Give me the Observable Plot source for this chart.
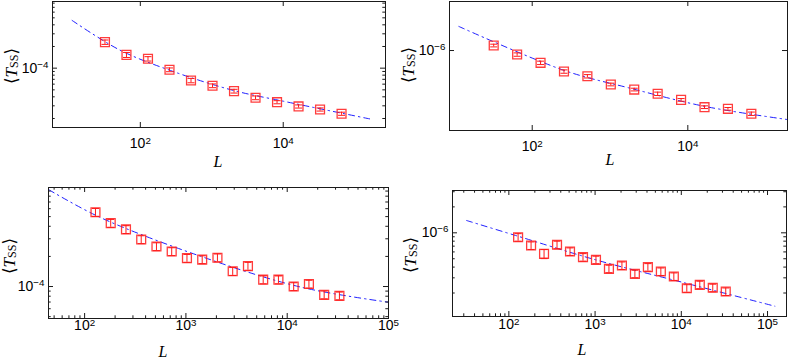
<!DOCTYPE html>
<html><head><meta charset="utf-8">
<script src="https://cdn.jsdelivr.net/npm/d3@7"></script>
<script src="https://cdn.jsdelivr.net/npm/@observablehq/plot@0.6"></script>
<style>
html,body{margin:0;padding:0;background:#fff;}
#wrap{position:relative;width:789px;height:359px;overflow:hidden;}
#wrap svg{position:absolute;overflow:visible;max-width:none!important;}
</style></head><body><div id="wrap"></div>
<script>
// ---------- data ----------
const L_top = [32, 64, 128, 256, 512, 1024, 2048, 4096, 8192, 16384, 32768, 65536];
const T_p1 = [2.30e-4, 1.53e-4, 1.35e-4, 9.5e-5, 6.74e-5, 5.70e-5, 4.80e-5, 3.88e-5, 3.37e-5, 2.94e-5, 2.67e-5, 2.33e-5];
const E_p1 = [0.07, 0.08, 0.07, 0.06, 0.07, 0.06, 0.06, 0.06, 0.05, 0.05, 0.05, 0.05];
const T_p2 = [1.16e-6, 8.88e-7, 6.95e-7, 5.37e-7, 4.67e-7, 3.66e-7, 3.15e-7, 2.78e-7, 2.32e-7, 1.87e-7, 1.78e-7, 1.54e-7];
const E_p2 = [0.04, 0.05, 0.05, 0.05, 0.05, 0.04, 0.04, 0.05, 0.04, 0.04, 0.04, 0.05];

const L_bot = [128, 181, 256, 362, 512, 724, 1024, 1448, 2048, 2896, 4096, 5793, 8192, 11585, 16384, 23170, 32768];
const T_p3 = [5.53e-4, 4.30e-4, 3.72e-4, 2.95e-4, 2.51e-4, 2.24e-4, 1.92e-4, 1.86e-4, 1.94e-4, 1.42e-4, 1.60e-4, 1.17e-4, 1.17e-4, 1.00e-4, 1.06e-4, 8.26e-5, 8.07e-5];
const E_p3 = [0.09, 0.09, 0.09, 0.09, 0.09, 0.09, 0.09, 0.09, 0.09, 0.09, 0.09, 0.09, 0.09, 0.09, 0.09, 0.09, 0.09];
const T_p4 = [8.89e-7, 7.12e-7, 5.70e-7, 7.26e-7, 6.07e-7, 5.21e-7, 4.86e-7, 3.82e-7, 4.17e-7, 3.34e-7, 3.99e-7, 3.55e-7, 3.11e-7, 2.27e-7, 2.49e-7, 2.30e-7, 2.08e-7];
const E_p4 = [0.10, 0.10, 0.12, 0.10, 0.10, 0.10, 0.10, 0.10, 0.10, 0.10, 0.10, 0.10, 0.10, 0.10, 0.10, 0.10, 0.10];

// fitted curves
const fitL_p1 = [11.1, 50.8, 263, 2018, 10000, 177400];
const fitT_p1 = [4.60e-4, 1.80e-4, 9.29e-5, 4.90e-5, 3.48e-5, 1.94e-5];
const fitL_p2 = [11.4, 260, 1746, 16870, 189700];
const fitT_p2 = [2.04e-6, 5.53e-7, 3.31e-7, 1.905e-7, 1.297e-7];
const fitL_p3 = [44.4, 141, 1409, 13770, 100000];
const fitT_p3 = [9.27e-4, 4.93e-4, 2.00e-4, 9.84e-5, 6.97e-5];
const fitL_p4 = [32.3, 119.7, 1019, 10190, 121600];
const fitT_p4 = [1.39e-6, 9.31e-7, 4.85e-7, 2.67e-7, 1.406e-7];

// tick values
const xMajorTop = [1e2, 1e4];
const xMajorBot = [1e2, 1e3, 1e4, 1e5];
const xMinorBot = [20,30,40,50,60,70,80,90,200,300,400,500,600,700,800,900,2e3,3e3,4e3,5e3,6e3,7e3,8e3,9e3,2e4,3e4,4e4,5e4,6e4,7e4,8e4,9e4];
const yMajorA = [1e-4];
const yMinorA = [2e-5,3e-5,4e-5,5e-5,6e-5,7e-5,8e-5,9e-5,2e-4,3e-4,4e-4,5e-4,6e-4,7e-4,8e-4,9e-4];
const yMajorB = [1e-6];
const yMinorB = [2e-7,3e-7,4e-7,5e-7,6e-7,7e-7,8e-7,9e-7,2e-6,3e-6];

// ---------- layout ----------
const panels = [
  {left:0, top:0, width:395, height:180, mt:1, mr:10, mb:53, ml:52,
   xDomain:[5.9, 2.7e5], yDomain:[1.50e-5, 8.43e-4],
   L:L_top, T:T_p1, E:E_p1, fL:fitL_p1, fT:fitT_p1,
   xMaj:xMajorTop, xMin:[], yMaj:yMajorA, yMin:yMinorA, xPad:11, xlab:[218,167], ylab:[11,66]},
  {left:395, top:0, width:394, height:180, mt:1, mr:2, mb:50, ml:54,
   xDomain:[8.65, 1.91e5], yDomain:[9.37e-8, 4.27e-6],
   L:L_top, T:T_p2, E:E_p2, fL:fitL_p2, fT:fitT_p2,
   xMaj:xMajorTop, xMin:[], yMaj:yMajorB, yMin:[], xPad:11, xlab:[215,165], ylab:[13,65]},
  {left:0, top:180, width:395, height:179, mt:7, mr:7, mb:41, ml:48,
   xDomain:[44, 1e5], yDomain:[4.79e-5, 9.77e-4],
   L:L_bot, T:T_p3, E:E_p3, fL:fitL_p3, fT:fitT_p3,
   xMaj:xMajorBot, xMin:xMinorBot, yMaj:yMajorA, yMin:yMinorA, xPad:2, xlab:[163,177], ylab:[9,76]},
  {left:395, top:180, width:394, height:179, mt:10, mr:3, mb:43, ml:57,
   xDomain:[22.2, 1.66e5], yDomain:[1.067e-7, 3.10e-6],
   L:L_bot, T:T_p4, E:E_p4, fL:fitL_p4, fT:fitT_p4,
   xMaj:xMajorBot, xMin:xMinorBot, yMaj:yMajorB, yMin:yMinorB, xPad:3, xlab:[187,175], ylab:[15,75]}
];

const fmt = d => "10^" + String(Math.round(Math.log10(d))).replace("-", "\u2212");
const capSymbol = {draw(ctx) { ctx.moveTo(-3.5, 0); ctx.lineTo(3.5, 0); }};
const RED = "#ff1a1a";
const AX = "#1a1a1a";

const wrap = document.getElementById("wrap");
for (const p of panels) {
  const iw = p.width - p.ml - p.mr, ih = p.height - p.mt - p.mb;
  const pts = p.L.map((L, i) => ({L, T: p.T[i], lo: p.T[i] * (1 - p.E[i]), hi: p.T[i] * (1 + p.E[i])}));
  const caps = pts.flatMap(d => [{L: d.L, y: d.lo}, {L: d.L, y: d.hi}]);
  const fit = p.fL.map((L, i) => ({L, T: p.fT[i]}));
  const inX = v => v >= p.xDomain[0] && v <= p.xDomain[1];
  const inY = v => v >= p.yDomain[0] && v <= p.yDomain[1];
  const xMin = p.xMin.filter(inX), yMin = p.yMin.filter(inY);
  const major = 5, minor = 2.7;
  const svg = Plot.plot({
    width: p.width, height: p.height,
    marginTop: p.mt, marginRight: p.mr, marginBottom: p.mb, marginLeft: p.ml,
    x: {type: "log", domain: p.xDomain, axis: null, label: null},
    y: {type: "log", domain: p.yDomain, axis: null, label: null},
    style: {fontFamily: "'Liberation Sans', Arial, sans-serif", fontSize: "14px", background: "transparent", color: "#000"},
    marks: [
      Plot.line(fit, {x: "L", y: "T", stroke: "#2020ff", strokeWidth: 1, strokeDasharray: "6,4,1.5,4", curve: "catmull-rom"}),
      Plot.ruleX(pts, {x: "L", y1: "lo", y2: "hi", stroke: RED, strokeWidth: 1}),
      Plot.dot(caps, {x: "L", y: "y", symbol: capSymbol, r: 3, stroke: RED, strokeWidth: 1}),
      Plot.dot(pts, {x: "L", y: "T", symbol: "square", r: 5, stroke: RED, fill: "none", strokeWidth: 1.3, strokeOpacity: 0.85}),
      // ticks (inward, mirrored)
      Plot.tickX(p.xMaj, {x: d => d, insetTop: ih - major, stroke: AX}),
      Plot.tickX(p.xMaj, {x: d => d, insetBottom: ih - major, stroke: AX}),
      Plot.tickX(xMin, {x: d => d, insetTop: ih - minor, stroke: AX}),
      Plot.tickX(xMin, {x: d => d, insetBottom: ih - minor, stroke: AX}),
      Plot.tickY(p.yMaj, {y: d => d, insetRight: iw - major, stroke: AX}),
      Plot.tickY(p.yMaj, {y: d => d, insetLeft: iw - major, stroke: AX}),
      Plot.tickY(yMin, {y: d => d, insetRight: iw - minor, stroke: AX}),
      Plot.tickY(yMin, {y: d => d, insetLeft: iw - minor, stroke: AX}),
      Plot.frame({stroke: AX}),
      Plot.axisX({ticks: p.xMaj, tickSize: 0, tickPadding: p.xPad, tickFormat: fmt, anchor: "bottom", label: null}),
      Plot.axisY({ticks: p.yMaj, tickSize: 0, tickPadding: 4, tickFormat: fmt, anchor: "left", label: null})
    ]
  });
  svg.style.left = p.left + "px";
  svg.style.top = p.top + "px";
  const s = d3.select(svg);
  // superscript exponents
  s.selectAll("text").each(function() {
    const t = this.textContent;
    const m = /^10\^(.+)$/.exec(t);
    if (!m) return;
    const el = d3.select(this);
    el.text("");
    el.append("tspan").text("10");
    el.append("tspan").attr("dy", "-0.5em").attr("font-size", "0.7em").text(m[1]);
  });
  // axis titles
  s.append("text")
    .attr("x", p.xlab[0]).attr("y", p.xlab[1])
    .attr("text-anchor", "middle")
    .style("font-family", "'Liberation Serif', 'DejaVu Serif', serif")
    .style("font-size", "16px").style("font-style", "italic")
    .text("L");
  const yl = s.append("text")
    .attr("transform", `translate(${p.ylab[0]},${p.ylab[1]}) rotate(-90)`)
    .attr("text-anchor", "middle")
    .attr("dominant-baseline", "central")
    .style("font-family", "'Liberation Serif', 'DejaVu Serif', serif")
    .style("font-size", "17px");
  yl.append("tspan").text("\u27E8");
  yl.append("tspan").style("font-style", "italic").text("T");
  yl.append("tspan").attr("dy", "3").style("font-size", "12px").text("SS");
  yl.append("tspan").attr("dy", "-3").text("\u27E9");
  wrap.appendChild(svg);
}
</script>
</body></html>
